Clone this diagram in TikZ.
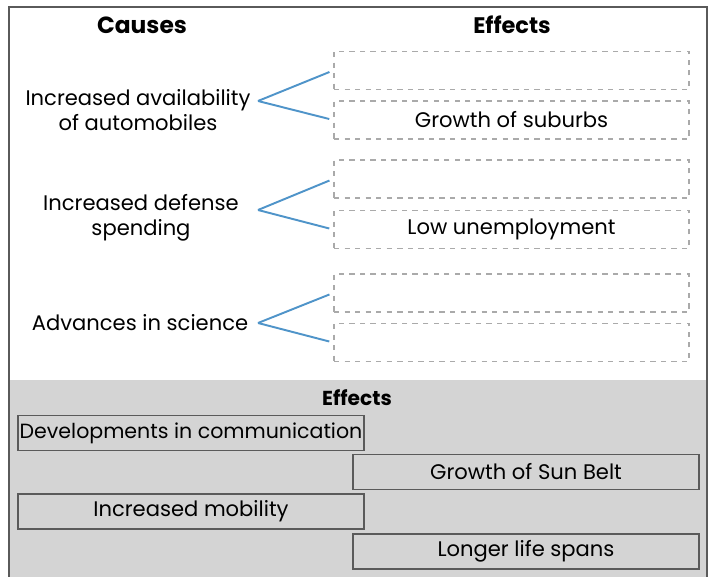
\documentclass[tikz,border=0pt]{standalone}
\usepackage{fontspec}
\setmainfont{Poppins}
\definecolor{linkblue}{RGB}{79,148,201}
\definecolor{panelgray}{RGB}{212,212,212}
\definecolor{framegray}{RGB}{90,90,90}
\definecolor{dashgray}{RGB}{170,170,170}
\begin{document}
\begin{tikzpicture}[x=0.02cm, y=-0.02cm, font=\fontsize{12}{14.5}\selectfont,
  gapbox/.style={draw=dashgray, dashed, line width=1pt, minimum width=7.1cm, minimum height=0.76cm, inner sep=0pt},
  pickbox/.style={draw=framegray, line width=0.9pt, minimum width=6.92cm, minimum height=0.7cm, inner sep=0pt},
  link/.style={draw=linkblue, line width=1.1pt, shorten >=0.08cm}]

 \useasboundingbox (0,0) rectangle (711,577);

	%frame and panel
 \fill[panelgray] (9,380) rectangle (707,577);
 \draw[framegray, line width=1pt] (9,577) -- (9,7) -- (707,7) -- (707,577);

	%headings
 \node[font=\fontsize{13.3}{15}\selectfont\bfseries] (hcause) at (142,25) {Causes};
 \node[font=\fontsize{12.8}{15}\selectfont\bfseries] (heffect) at (512,25) {Effects};
 \node[font=\fontsize{11.5}{13}\selectfont\bfseries] (hpool) at (357,398) {Effects};

	%draw causes
 \node[align=center] (c1) at (138,110) {Increased availability\\of automobiles};
 \node[align=center] (c2) at (141,218) {Increased defense\\spending};
 \node[align=center] (c3) at (140,323) {Advances in science};

	%draw effect boxes
    \foreach \y/\txt/\name in {70.5//e1a,120/Growth of suburbs/e1b,179//e2a,229.5/Low unemployment/e2b,293//e3a,342.5//e3b}{
         \node[gapbox] (\name) at (511.5,\y) {\txt};
    }

	%draw links
    \foreach \i/\y in {1/101,2/210,3/323}{
         \coordinate (k\i) at (258,\y);
         \draw[link] (k\i) -- (e\i a.west);
         \draw[link] (k\i) -- (e\i b.west);
    }

	%draw pool
    \foreach \x/\y/\txt/\name in {191/433/{\fontsize{11.7}{14}\selectfont Developments in communication}/p1,526/472/Growth of Sun Belt/p2,191/511.5/Increased mobility/p3,526/551.5/Longer life spans/p4}{
         \node[pickbox] (\name) at (\x,\y) {\txt};
    }

\end{tikzpicture}
\end{document}
